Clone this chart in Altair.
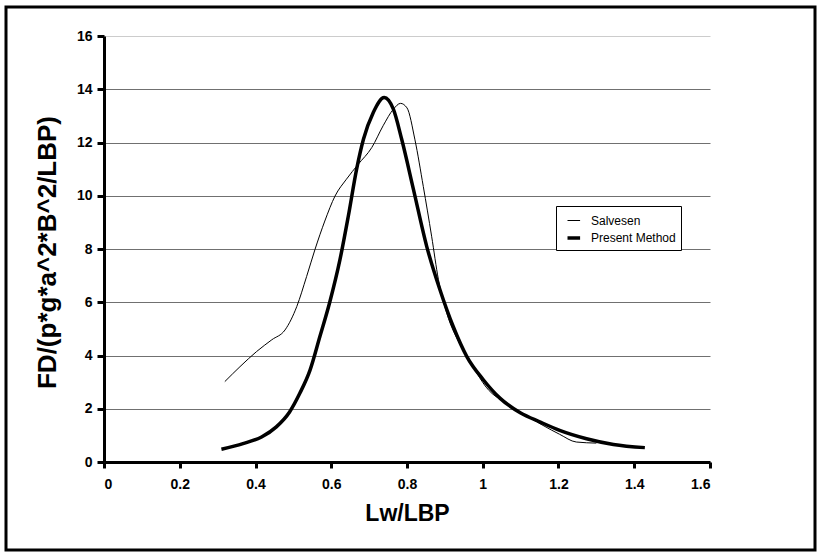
import altair as alt
import pandas as pd

# Salvesen (thin line)
salv_x = [0.319, 0.359, 0.403, 0.443, 0.478, 0.509, 0.535, 0.557, 0.583, 0.610,
          0.640, 0.671, 0.707, 0.737, 0.764, 0.783, 0.800, 0.821, 0.843, 0.865,
          0.883, 0.905, 0.940, 0.975, 1.009, 1.071, 1.159, 1.203, 1.247, 1.300]
salv_y = [3.02, 3.58, 4.15, 4.59, 4.96, 5.84, 6.97, 7.98, 9.05, 9.99,
          10.62, 11.18, 11.81, 12.63, 13.25, 13.47, 13.30, 12.10, 10.35, 8.48,
          6.85, 5.59, 4.42, 3.56, 2.81, 2.13, 1.375, 1.04, 0.75, 0.71]

# Present Method (thick line)
pres_x = [0.310, 0.367, 0.416, 0.455, 0.490, 0.517, 0.544, 0.570, 0.596, 0.623,
          0.645, 0.667, 0.685, 0.711, 0.740, 0.764, 0.786, 0.817, 0.852, 0.887,
          0.922, 0.958, 1.002, 1.046, 1.099, 1.152, 1.203, 1.274, 1.345, 1.428]
pres_y = [0.48, 0.69, 0.94, 1.32, 1.88, 2.58, 3.45, 4.71, 6.00, 7.60,
          9.23, 11.00, 12.12, 13.13, 13.69, 13.25, 12.12, 10.24, 8.10, 6.47,
          5.09, 3.96, 3.08, 2.39, 1.85, 1.50, 1.19, 0.875, 0.66, 0.54]

series_names = ["Salvesen", "Present Method"]
x_ticks = [0, 0.2, 0.4, 0.6, 0.8, 1.0, 1.2, 1.4, 1.6]
y_ticks = [0, 2, 4, 6, 8, 10, 12, 14, 16]

rows = []
for i, (x, y) in enumerate(zip(salv_x, salv_y)):
    rows.append({"series": "Salvesen", "x": x, "y": y, "order": i})
for i, (x, y) in enumerate(zip(pres_x, pres_y)):
    rows.append({"series": "Present Method", "x": x, "y": y, "order": i})
df = pd.DataFrame(rows)

FONT = "Liberation Sans"
SYM = "M-0.5,0H0.9"

legend_common = dict(title=None, orient="none", legendX=452, legendY=170,
                     symbolType=SYM, symbolSize=324, symbolFillColor="transparent",
                     labelFont=FONT, labelFontSize=12, labelColor="black",
                     strokeColor="black", fillColor="white", padding=5,
                     rowPadding=0, labelOffset=8)

lines = alt.Chart(df).mark_line(interpolate="monotone").encode(
    x=alt.X("x:Q", scale=alt.Scale(domain=[0, 1.6], nice=False),
            axis=alt.Axis(values=x_ticks, title="Lw/LBP", grid=False,
                          labelExpr="datum.value == 1 ? '1' : format(datum.value, '.1~f')",
                          tickSize=6, labelPadding=9,
                          titleFontSize=23, titleY=51, titleBaseline="middle")),
    y=alt.Y("y:Q", scale=alt.Scale(domain=[0, 16], nice=False),
            axis=alt.Axis(values=y_ticks, title="FD/(p*g*a^2*B^2/LBP)", grid=True,
                          gridColor={"condition": {"test": "datum.value == 16", "value": "#cccccc"},
                                     "value": "#707070"},
                          tickSize=7, labelPadding=5,
                          titleFontSize=26, titleX=-57, titleY=216,
                          titleAlign="center", titleBaseline="middle")),
    color=alt.Color("series:N", scale=alt.Scale(domain=series_names, range=["black", "black"]),
                    legend=alt.Legend(**legend_common)),
    strokeWidth=alt.StrokeWidth("series:N", scale=alt.Scale(domain=series_names, range=[1, 3.5]),
                                legend=alt.Legend(**legend_common)),
    detail="series:N",
    order="order:Q",
)

frame = alt.Chart(pd.DataFrame({"a": [0]})).mark_rect(
    fill="transparent", stroke="black", strokeWidth=3
).encode(
    x=alt.value(-98), x2=alt.value(711), y=alt.value(-29), y2=alt.value(514)
)

chart = alt.layer(lines, frame).properties(
    width=606, height=426,
    background="white",
    autosize=alt.AutoSizeParams(type="none"),
    padding={"left": 104, "top": 36, "right": 109, "bottom": 94},
).configure_view(stroke=None).configure_axis(
    labelFont=FONT, titleFont=FONT, labelFontWeight="bold", titleFontWeight="bold",
    labelFontSize=14, labelColor="black", titleColor="black",
    domainColor="black", domainWidth=3, tickColor="black", tickWidth=3,
    gridWidth=1,
)

chart.save("out.html", embed_options={"renderer": "svg", "actions": False})
